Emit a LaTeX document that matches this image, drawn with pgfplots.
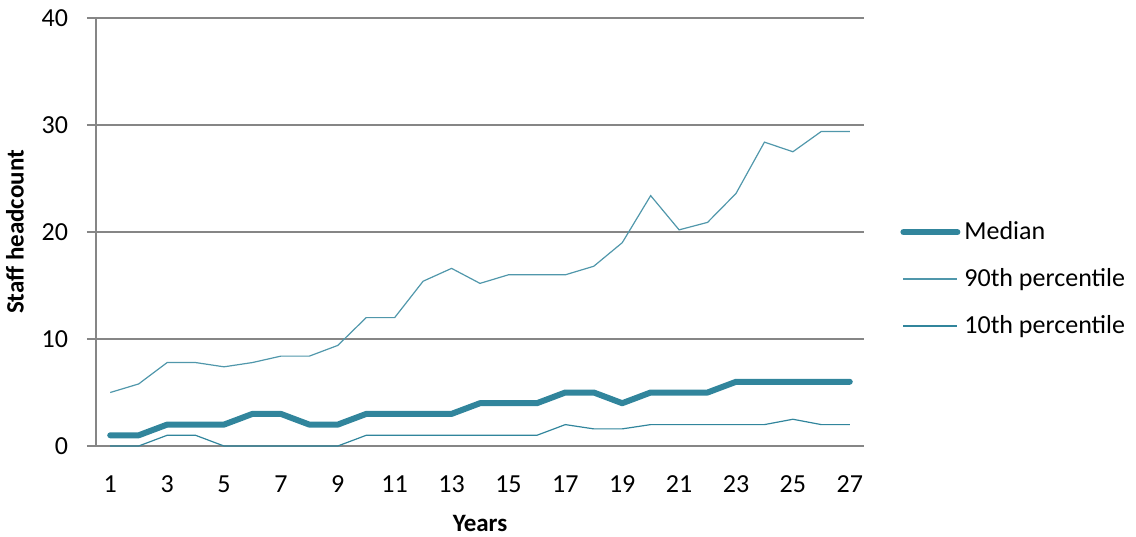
\documentclass[border=0pt]{standalone}
\usepackage{fontspec}
\setmainfont{Carlito}
\usepackage{pgfplots}
\pgfplotsset{compat=1.18}
\definecolor{teal1}{RGB}{49,133,156}
\definecolor{gridgrey}{RGB}{134,134,134}

\begin{document}
\fontsize{13}{15}\selectfont
\begin{tikzpicture}
  \path[use as bounding box] (-48pt,-45pt) rectangle (520pt,223pt);
  \begin{axis}
    [
    at={(0,0)},
    anchor=south west,
    scale only axis,
    width=384pt,
    height=214pt,
    xmin=0.5, xmax=27.5,
    ymin=0, ymax=40,
    xtick={1,3,...,27},
    ytick={0,10,20,30,40},
    ymajorgrids,
    grid style={gridgrey, line width=0.8pt},
    axis x line*=bottom,
    axis y line*=left,
    axis line style={gridgrey, line width=0.8pt, -},
    tick align=outside,
    xtick style={draw=none},
    ytick style={gridgrey, line width=0.8pt},
    major tick length=4.5pt,
    ticklabel style={font=\fontsize{13}{15}\selectfont},
    /pgf/number format/assume math mode=true,
    xticklabel style={yshift=-6pt},
    yticklabel style={xshift=-5pt},
    xlabel={\textbf{Years}},
    xlabel style={yshift=-2pt},
    ylabel={\textbf{Staff headcount}},
    label style={font=\fontsize{12.5}{15}\selectfont},
    legend cell align={left},
    legend style={
      at={(1,0.39)},
      anchor=west,
      xshift=15pt,
      draw=none,
      fill=none,
      font=\fontsize{13}{15}\selectfont,
      row sep=8.5pt,
    },
    legend image code/.code={\draw[#1] (0pt,0pt) -- (27pt,0pt);},
    ]
    \addplot[teal1, line width=3pt, line cap=round, line join=round] table {
      1 1
      2 1
      3 2
      4 2
      5 2
      6 3
      7 3
      8 2
      9 2
      10 3
      11 3
      12 3
      13 3
      14 4
      15 4
      16 4
      17 5
      18 5
      19 4
      20 5
      21 5
      22 5
      23 6
      24 6
      25 6
      26 6
      27 6
    };
    \addlegendentry{Median}
    \addplot[teal1!85!white, line width=0.6pt] table {
      1 5.0
      2 5.8
      3 7.8
      4 7.8
      5 7.4
      6 7.8
      7 8.4
      8 8.4
      9 9.4
      10 12.0
      11 12.0
      12 15.4
      13 16.6
      14 15.2
      15 16.0
      16 16.0
      17 16.0
      18 16.8
      19 19.0
      20 23.4
      21 20.2
      22 20.9
      23 23.6
      24 28.4
      25 27.5
      26 29.4
      27 29.4
    };
    \addlegendentry{90th percentile}
    \addplot[teal1, line width=0.6pt] table {
      1 0
      2 0
      3 1
      4 1
      5 0
      6 0
      7 0
      8 0
      9 0
      10 1
      11 1
      12 1
      13 1
      14 1
      15 1
      16 1
      17 2
      18 1.6
      19 1.6
      20 2
      21 2
      22 2
      23 2
      24 2
      25 2.5
      26 2
      27 2
    };
    \addlegendentry{10th percentile}
  \end{axis}
\end{tikzpicture}
\end{document}
